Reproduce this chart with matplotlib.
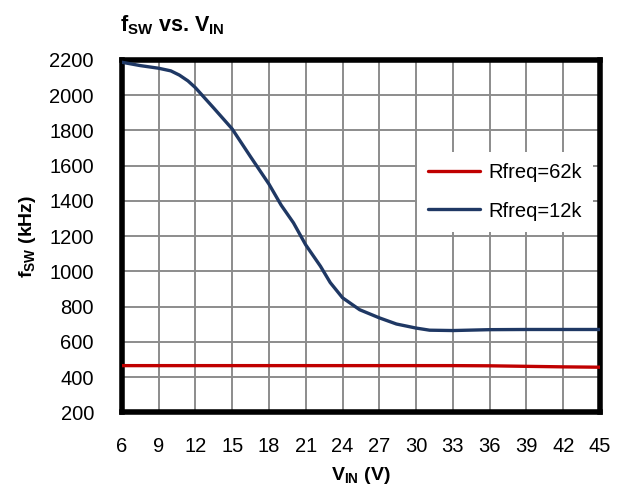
import matplotlib
matplotlib.use("Agg")
import matplotlib.pyplot as plt

plt.rcParams['font.family'] = ['Liberation Sans', 'DejaVu Sans']
plt.rcParams['mathtext.fontset'] = 'custom'
plt.rcParams['mathtext.rm'] = 'Liberation Sans'
plt.rcParams['mathtext.bf'] = 'Liberation Sans:bold'
plt.rcParams['mathtext.it'] = 'Liberation Sans:italic'

vin_62k = [6, 9, 12, 15, 18, 21, 24, 27, 30, 33, 36, 39, 42, 45]
fsw_62k = [465, 465, 465, 465, 465, 465, 465, 465, 465, 465, 464, 461, 458, 456]

vin_12k = [6, 7.5, 9, 10, 10.7, 11.4, 12, 13.5, 15, 16.5, 18, 19, 20, 21, 22.2, 23, 24, 25.4, 27, 28.4, 30, 31.1, 33, 36, 39, 42, 45]
fsw_12k = [2186, 2167, 2152, 2137, 2113, 2080, 2042, 1926, 1808, 1650, 1495, 1375, 1275, 1150, 1029, 936, 850, 782, 736, 701, 678, 666, 664, 669, 670, 670, 670]

x_ticks = [6, 9, 12, 15, 18, 21, 24, 27, 30, 33, 36, 39, 42, 45]
y_ticks = [200, 400, 600, 800, 1000, 1200, 1400, 1600, 1800, 2000, 2200]

fig = plt.figure(figsize=(6.18, 4.98), dpi=100)
ax = fig.add_axes([0.197, 0.172, 0.774, 0.708])

ax.plot(vin_62k, fsw_62k, color='#C00000', lw=2.4, label='Rfreq=62k', solid_capstyle='round', zorder=3)
ax.plot(vin_12k, fsw_12k, color='#1F3864', lw=2.4, label='Rfreq=12k', solid_capstyle='round',
        solid_joinstyle='round', zorder=3)

ax.set_xlim(6, 45)
ax.set_ylim(200, 2200)
ax.set_xticks(x_ticks)
ax.set_yticks(y_ticks)
ax.grid(True, color='#8C8C8C', lw=1.4)
ax.set_axisbelow(True)
ax.tick_params(length=0, labelsize=14.5, colors='black')
ax.tick_params(axis='x', pad=18)
ax.tick_params(axis='y', pad=20)
for s in ax.spines.values():
    s.set_linewidth(4)
    s.set_color('black')

ax.set_ylabel(r'$\mathbf{f_{SW}}$ (kHz)', fontsize=14, fontweight='bold', labelpad=8)
ax.set_xlabel(r'$\mathbf{V_{IN}}$ (V)', fontsize=14, fontweight='bold', labelpad=6)

fig.text(0.194, 1 - 31 / 498, r'$\mathbf{f_{SW}}$ vs. $\mathbf{V_{IN}}$', fontsize=15.5,
         fontweight='bold', ha='left', va='baseline')

leg = ax.legend(loc='center right', bbox_to_anchor=(0.985, 0.625), frameon=True,
                fontsize=14.5, handlelength=2.6, handletextpad=0.4,
                labelspacing=0.95, borderpad=0.55, borderaxespad=0)
leg.get_frame().set_facecolor('white')
leg.get_frame().set_edgecolor('none')
leg.get_frame().set_alpha(1)
leg.get_frame().set_boxstyle('square', pad=0)

fig.savefig('out.png', dpi=100)
